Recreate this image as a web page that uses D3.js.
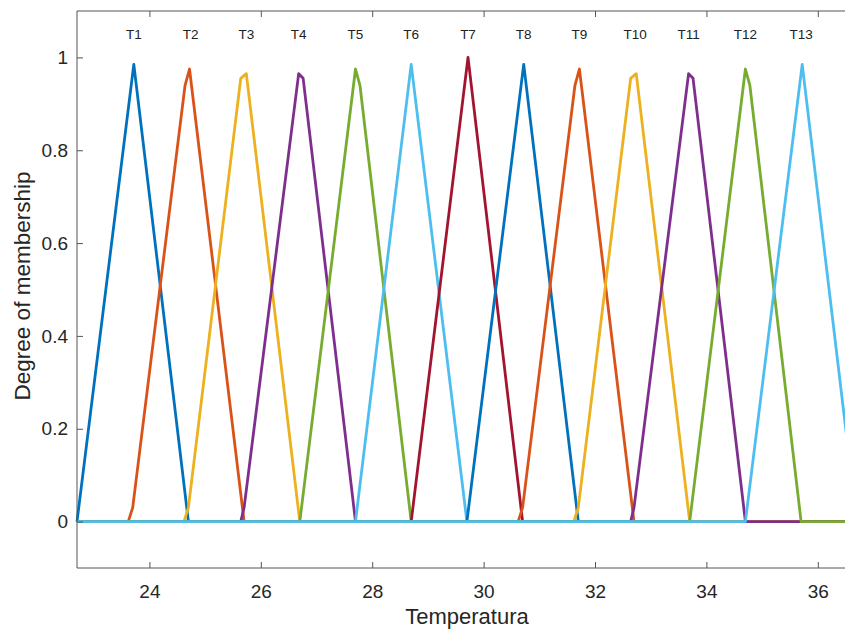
<!DOCTYPE html>
<meta charset="utf-8">
<script src="https://d3js.org/d3.v7.min.js"></script>
<style>
  body { margin: 0; background: #fff; }
  text { font-family: "Liberation Sans", Arial, sans-serif; }
</style>
<div id="chart"></div>
<script>

// membership functions: vertices [temperature, degree]
var T1  = [[22.7,0],[23.72,0.985],[24.7,0],[36.7,0]];
var T2  = [[22.7,0],[23.62,0],[23.7,0.03],[24.64,0.94],[24.72,0.975],[25.7,0],[36.7,0]];
var T3  = [[22.7,0],[24.62,0],[24.7,0.03],[25.64,0.955],[25.74,0.965],[26.7,0],[36.7,0]];
var T4  = [[22.7,0],[25.64,0],[25.7,0.03],[26.68,0.965],[26.76,0.955],[27.7,0],[36.7,0]];
var T5  = [[22.7,0],[26.7,0],[27.7,0.975],[27.78,0.94],[28.7,0],[36.7,0]];
var T6  = [[22.7,0],[27.7,0],[28.7,0.985],[29.7,0],[36.7,0]];
var T7  = [[22.7,0],[28.7,0],[29.72,1.0],[30.7,0],[36.7,0]];
var T8  = [[22.7,0],[29.7,0],[30.72,0.985],[31.7,0],[36.7,0]];
var T9  = [[22.7,0],[30.62,0],[30.7,0.03],[31.64,0.94],[31.72,0.975],[32.7,0],[36.7,0]];
var T10 = [[22.7,0],[31.62,0],[31.7,0.03],[32.64,0.955],[32.74,0.965],[33.7,0],[36.7,0]];
var T11 = [[22.7,0],[32.64,0],[32.7,0.03],[33.68,0.965],[33.76,0.955],[34.7,0],[36.7,0]];
var T12 = [[22.7,0],[33.7,0],[34.7,0.975],[34.78,0.94],[35.7,0],[36.7,0]];
var T13 = [[22.7,0],[34.7,0],[35.72,0.985],[36.7,0]];

var series = [T1,T2,T3,T4,T5,T6,T7,T8,T9,T10,T11,T12,T13];
var names = ["T1","T2","T3","T4","T5","T6","T7","T8","T9","T10","T11","T12","T13"];
var labelX = [23.72,24.74,25.74,26.68,27.7,28.7,29.72,30.72,31.72,32.72,33.68,34.7,35.7];
var labelY = 1.05;

var xTicks = [24,26,28,30,32,34,36];
var yTicks = [0,0.2,0.4,0.6,0.8,1];

var colors = ["#0072BD","#D95319","#EDB120","#7E2F8E","#77AC30","#4DBEEE","#A2142F"];

var W = 845, H = 631;
var mLeft = 77, mTop = 11, mBottom = 568;

var svg = d3.select("#chart").append("svg")
  .attr("width", W).attr("height", H);

// x axis extends past the window, as in the picture
var x = d3.scaleLinear().domain([22.7, 36.7]).range([mLeft, mLeft + 14 * 55.7]);
var y = d3.scaleLinear().domain([-0.1, 1.1]).range([mBottom, mTop]);

var axisColor = "#555";

// lines
var line = d3.line()
  .x(function(d) { return x(d[0]); })
  .y(function(d) { return y(d[1]); });

svg.append("g").selectAll("path")
  .data(series)
  .enter().append("path")
    .attr("d", line)
    .attr("fill", "none")
    .attr("stroke", function(d, i) { return colors[i % 7]; })
    .attr("stroke-width", 2.8)
    .attr("stroke-linejoin", "round");

// labels above peaks
svg.append("g").selectAll("text")
  .data(names)
  .enter().append("text")
    .attr("x", function(d, i) { return x(labelX[i]); })
    .attr("y", y(labelY))
    .attr("dy", "0.35em")
    .attr("text-anchor", "middle")
    .style("font-size", "13.5px")
    .style("fill", "#222")
    .text(function(d) { return d; });

// bottom axis
var xAxis = svg.append("g")
  .attr("transform", "translate(0," + mBottom + ")")
  .call(d3.axisBottom(x).tickValues(xTicks).tickSize(-6).tickPadding(17));
xAxis.select(".domain").attr("stroke", axisColor).attr("d", "M" + mLeft + ",0H" + (W + 20));

// top border with ticks
var xTop = svg.append("g")
  .attr("transform", "translate(0," + mTop + ")")
  .call(d3.axisTop(x).tickValues(xTicks).tickSize(-6).tickFormat(""));
xTop.select(".domain").attr("stroke", axisColor).attr("d", "M" + mLeft + ",0H" + (W + 20));

// left axis
var yAxis = svg.append("g")
  .attr("transform", "translate(" + mLeft + ",0)")
  .call(d3.axisLeft(y).tickValues(yTicks).tickSize(-6).tickPadding(9)
    .tickFormat(function(d) { return d === 0 || d === 1 ? d : d3.format(".1f")(d); }));
yAxis.select(".domain").attr("stroke", axisColor).attr("d", "M0," + mTop + "V" + mBottom);

svg.selectAll(".tick line").attr("stroke", axisColor);
svg.selectAll(".tick text")
  .style("font-size", "19px")
  .style("fill", "#262626")
  .style("font-family", "'Liberation Sans', Arial, sans-serif");

// axis titles
svg.append("text")
  .attr("x", 467).attr("y", 624)
  .attr("text-anchor", "middle")
  .style("font-size", "22px")
  .style("fill", "#262626")
  .text("Temperatura");

svg.append("text")
  .attr("transform", "translate(30,286) rotate(-90)")
  .attr("text-anchor", "middle")
  .style("font-size", "22.5px")
  .style("fill", "#262626")
  .text("Degree of membership");

</script>
